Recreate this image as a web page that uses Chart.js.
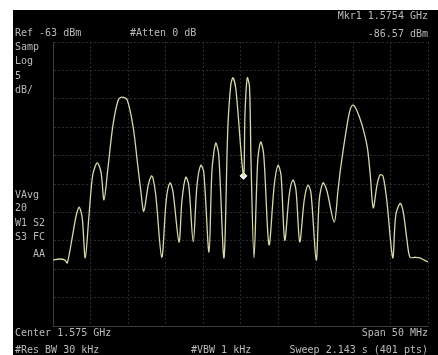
<!DOCTYPE html>
<html>
<head>
<meta charset="utf-8">
<script src="https://cdn.jsdelivr.net/npm/chart.js@4.4.1/dist/chart.umd.min.js"></script>
<style>
  html, body { margin: 0; padding: 0; background: #ffffff; }
  #wrap { position: relative; width: 438px; height: 355px; overflow: hidden; }
  #chart { position: absolute; left: 0; top: 0; }
  .t { position: absolute; font-family: "DejaVu Sans Mono", monospace; font-size: 10px;
       line-height: 10px; color: #b9b9b9; white-space: pre; }
  .r { text-align: right; }
</style>
</head>
<body>
<div id="wrap">
  <canvas id="chart" width="438" height="355"></canvas>
  <div class="t" style="left:15px; top:28px;">Ref -63 dBm</div>
  <div class="t" style="left:130px; top:28px;">#Atten 0 dB</div>
  <div class="t r" style="right:10px; top:11px;">Mkr1 1.5754 GHz</div>
  <div class="t r" style="right:10px; top:29px;">-86.57 dBm</div>
  <div class="t" style="left:15px; top:42px;">Samp</div>
  <div class="t" style="left:15px; top:56px;">Log</div>
  <div class="t" style="left:15px; top:71px;">5</div>
  <div class="t" style="left:15px; top:85px;">dB/</div>
  <div class="t" style="left:15px; top:190px;">VAvg</div>
  <div class="t" style="left:15px; top:203px;">20</div>
  <div class="t" style="left:15px; top:218px;">W1 S2</div>
  <div class="t" style="left:15px; top:232px;">S3 FC</div>
  <div class="t" style="left:33px; top:249px;">AA</div>
  <div class="t" style="left:15px; top:328px;">Center 1.575 GHz</div>
  <div class="t" style="left:15px; top:345px;">#Res BW 30 kHz</div>
  <div class="t" style="left:191px; top:345px;">#VBW 1 kHz</div>
  <div class="t r" style="right:10px; top:328px;">Span 50 MHz</div>
  <div class="t r" style="right:10px; top:345px;">Sweep 2.143 s (401 pts)</div>
</div>
<script>
// Sweep settings
const refLevel = -63;      // dBm, top of screen
const dbPerDiv = 5;
const startMHz = 1550;
const stopMHz = 1600;

// Trace (frequency in MHz, level in dBm)
const freqMHz = [
  1550.0, 1550.9, 1551.6, 1551.9, 1552.5, 1553.1, 1553.5, 1553.9, 1554.3,
  1554.8, 1555.3, 1555.9, 1556.4, 1556.8,
  1557.3, 1558.0, 1558.7, 1559.2, 1559.9, 1560.7, 1561.3, 1561.7, 1562.1,
  1562.7, 1563.1, 1563.3, 1563.7, 1564.5,
  1565.1, 1565.6, 1566.0, 1566.8,
  1567.2, 1567.7, 1568.1, 1568.7,
  1569.2, 1569.7, 1570.1, 1570.8,
  1571.2, 1571.7, 1572.1, 1572.8,
  1573.3, 1573.7, 1574.0, 1574.4, 1575.4,
  1575.6, 1575.9, 1576.2, 1576.4, 1576.8,
  1577.3, 1577.7, 1578.1, 1578.8,
  1579.5, 1580.0, 1580.4, 1580.9,
  1581.5, 1582.0, 1582.4, 1582.9,
  1583.5, 1584.0, 1584.4, 1585.1,
  1585.5, 1586.0, 1586.5, 1587.5,
  1588.0, 1588.4, 1589.1, 1589.6, 1590.0, 1590.5, 1591.2, 1591.9, 1592.3, 1592.7,
  1593.2, 1593.6, 1594.0, 1594.5, 1595.3,
  1595.7, 1596.3, 1596.7, 1597.2, 1597.6,
  1598.3, 1598.9, 1599.5, 1600.0
];
const levelDbm = [
  -101.4, -101.2, -101.4, -101.9, -97.9, -93.5, -92.1, -94.0, -101.0,
  -93.5, -86.4, -84.3, -85.9, -90.8,
  -85.5, -77.6, -73.2, -72.7, -73.2, -78.1, -84.7, -89.1, -92.8,
  -88.2, -86.6, -86.8, -89.9, -100.9,
  -90.8, -87.8, -89.4, -98.2,
  -90.8, -86.8, -88.2, -98.2,
  -88.2, -84.7, -85.9, -100.0,
  -85.5, -80.8, -82.9, -101.0,
  -78.5, -70.6, -69.3, -71.5, -86.57,
  -75.5, -69.3, -70.9, -83.8, -101.0,
  -83.8, -80.6, -82.9, -98.7,
  -88.2, -84.7, -86.4, -97.9,
  -89.9, -87.3, -89.1, -98.2,
  -90.8, -88.2, -89.6, -101.4,
  -90.8, -87.8, -89.1, -94.7,
  -89.1, -84.7, -78.5, -75.0, -74.1, -75.0, -77.6, -81.5, -86.4, -92.2,
  -88.2, -86.4, -86.6, -90.8, -101.0,
  -93.5, -91.4, -92.9, -97.9, -100.9,
  -100.9, -101.0, -101.4, -101.7
];

// Marker 1
const markerMHz = 1575.4;
const markerDbm = -86.57;

const tracePoints = freqMHz.map((f, i) => ({ x: f, y: levelDbm[i] }));

// Instrument screen: white frame around a black display area
const screenBackground = {
  id: 'screenBackground',
  beforeDraw(chart) {
    const ctx = chart.ctx;
    ctx.save();
    ctx.fillStyle = '#ffffff';
    ctx.fillRect(0, 0, chart.width, chart.height);
    ctx.fillStyle = '#000000';
    ctx.fillRect(13, 10, chart.width - 13, chart.height - 10);
    ctx.restore();
  }
};

new Chart(document.getElementById('chart'), {
  type: 'line',
  data: {
    datasets: [
      {
        data: tracePoints,
        borderColor: '#d8d8a2',
        borderWidth: 1.3,
        pointRadius: 0,
        tension: 0.3,
        fill: false
      },
      {
        data: [{ x: markerMHz, y: markerDbm }],
        showLine: false,
        pointStyle: 'rectRot',
        pointRadius: 3.5,
        backgroundColor: '#f0f0ea',
        borderColor: '#f0f0ea'
      }
    ]
  },
  options: {
    responsive: false,
    animation: false,
    devicePixelRatio: 1,
    layout: { padding: { left: 53, right: 10, top: 42, bottom: 29 } },
    plugins: { legend: { display: false }, tooltip: { enabled: false } },
    scales: {
      x: {
        type: 'linear',
        min: startMHz,
        max: stopMHz,
        ticks: { display: false, stepSize: (stopMHz - startMHz) / 10 },
        grid: { color: '#2a2a2a', drawTicks: false, lineWidth: 1 },
        border: { display: true, color: '#3c3c3c', dash: [2, 2] }
      },
      y: {
        type: 'linear',
        min: refLevel - 10 * dbPerDiv,
        max: refLevel,
        ticks: { display: false, stepSize: dbPerDiv },
        grid: { color: '#2a2a2a', drawTicks: false, lineWidth: 1 },
        border: { display: true, color: '#3c3c3c', dash: [2, 2] }
      }
    }
  },
  plugins: [screenBackground]
});
</script>
</body>
</html>
